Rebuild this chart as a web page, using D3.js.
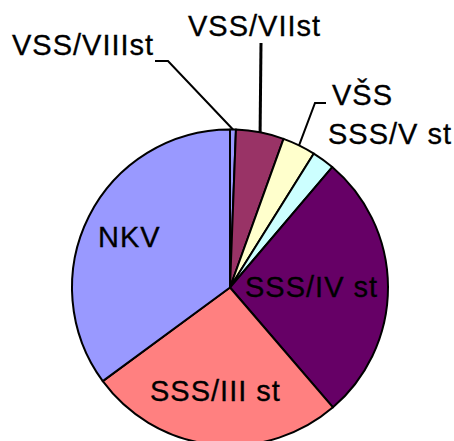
<!DOCTYPE html>
<html>
<head>
<meta charset="utf-8">
<script src="https://cdn.jsdelivr.net/npm/d3@7"></script>
<style>
    body { margin: 0; background: #fff; }
    text { font-family: "Liberation Sans", Arial, sans-serif; font-size: 29px; letter-spacing: 1px; fill: #000; stroke: #000; stroke-width: 0.3px; }
</style>
</head>
<body>
<div id="chart"></div>
<script>
var width = 454,
    height = 441;

// categories, going clockwise from 12 o'clock
var categories = ["VSS/VIIIst", "VSS/VIIst", "VŠS", "SSS/V st", "SSS/IV st", "SSS/III st", "NKV"];
var shares = [0.6, 4.9, 3.4, 2.3, 27.5, 26.2, 35.1];
var colors = ["#9999FF", "#993366", "#FFFFCC", "#CCFFFF", "#660066", "#FF8080", "#9999FF"];

// where each label sits (text start, baseline) and optional leader elbow
var labelPos = {
    "VSS/VIIIst": { x: 12, y: 55, leader: [[155, 61], [168, 61]] },
    "VSS/VIIst": { x: 188, y: 36, leader: [[261, 43]] },
    "VŠS": { x: 332, y: 105, leader: [[326, 103], [315, 103]] },
    "SSS/V st": { x: 328, y: 144 },
    "SSS/IV st": { x: 245, y: 297 },
    "SSS/III st": { x: 150, y: 401 },
    "NKV": { x: 98, y: 247 }
};

var cx = 230, cy = 287.5, radius = 158;

var data = categories.map(function(c, i) {
    return { name: c, value: shares[i], color: colors[i] };
});

var svg = d3.select("#chart").append("svg")
    .attr("width", width)
    .attr("height", height);

var g = svg.append("g")
    .attr("transform", "translate(" + cx + "," + cy + ")");

var pie = d3.pie()
    .sort(null)
    .value(function(d) { return d.value; });

var arc = d3.arc().innerRadius(0).outerRadius(radius);
var edge = d3.arc().innerRadius(radius).outerRadius(radius); // point on the rim

var arcs = pie(data);

g.selectAll(".slice")
    .data(arcs)
    .enter().append("path")
    .attr("class", "slice")
    .attr("d", arc)
    .attr("fill", function(d) { return d.data.color; })
    .attr("stroke", "#000")
    .attr("stroke-width", 2)
    .attr("stroke-linejoin", "round");

// leader lines from the rim out to the labels
var line = d3.line();
svg.selectAll(".leader")
    .data(arcs.filter(function(d) { return labelPos[d.data.name].leader; }))
    .enter().append("path")
    .attr("class", "leader")
    .attr("fill", "none")
    .attr("stroke", "#000")
    .attr("stroke-width", function(d) { return d.data.name == "VSS/VIIst" ? 3 : 2; })
    .attr("d", function(d) {
        var c = edge.centroid(d);
        var pts = labelPos[d.data.name].leader.slice();
        pts.push([cx + c[0], cy + c[1]]);
        return line(pts);
    });

svg.selectAll(".label")
    .data(arcs)
    .enter().append("text")
    .attr("class", "label")
    .attr("x", function(d) { return labelPos[d.data.name].x; })
    .attr("y", function(d) { return labelPos[d.data.name].y; })
    .text(function(d) { return d.data.name; });
</script>
</body>
</html>
